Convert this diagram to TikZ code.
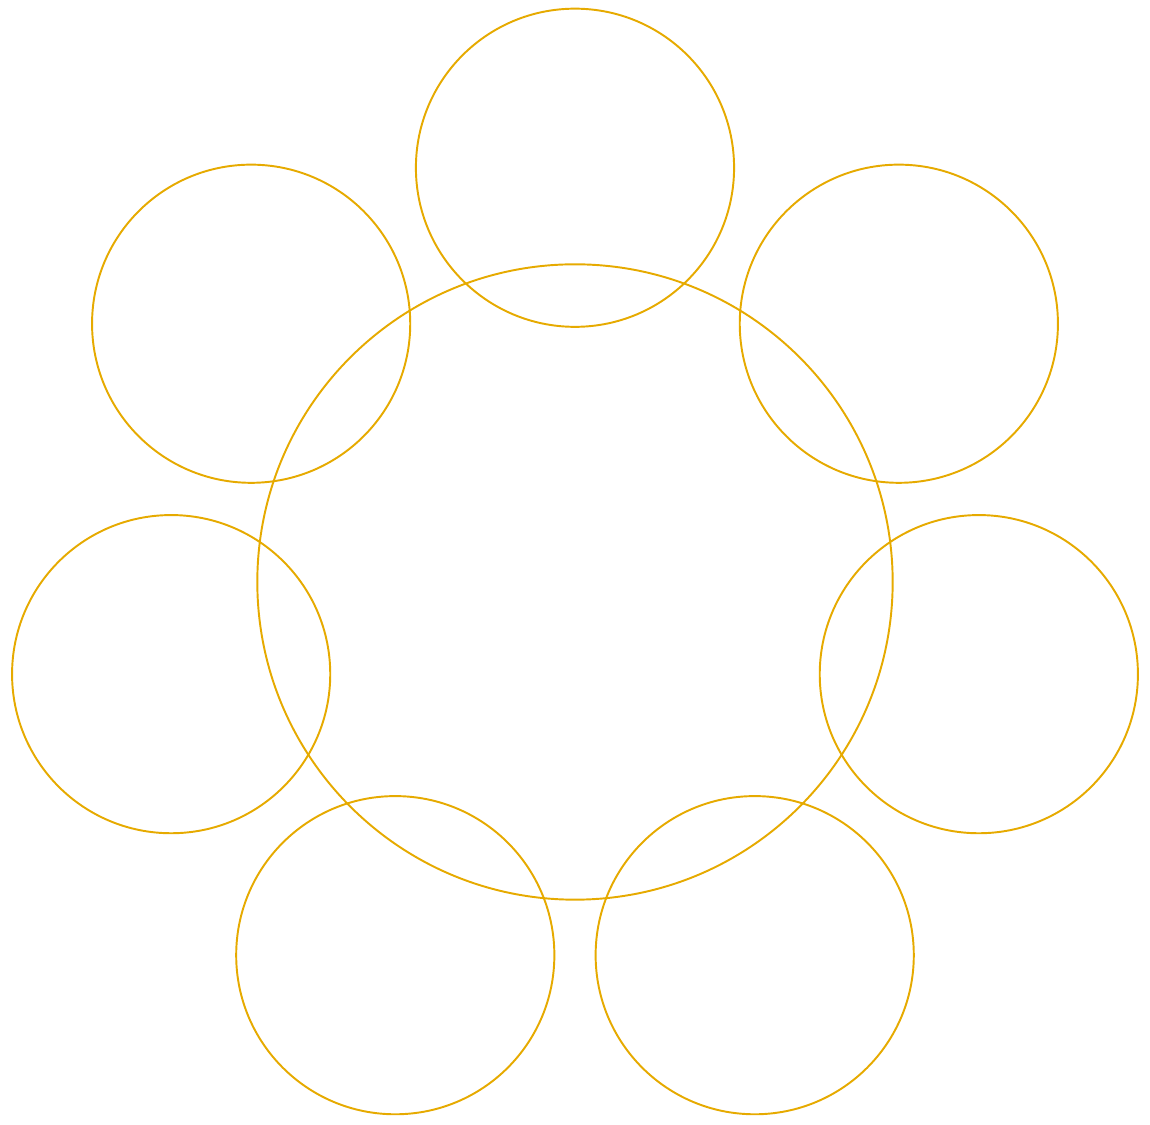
\documentclass[tikz,border=0pt]{standalone}
\usepackage{xcolor}
\usepackage{tikz}
\usetikzlibrary{positioning,calc}
\definecolor{ringgold}{RGB}{230,170,0}
\tikzset{
  hub/.style={circle,draw=ringgold,line width=0.55pt,minimum size=6.35cm,inner sep=0pt},
  petal/.style={circle,draw=ringgold,line width=0.55pt,minimum size=3.18cm,inner sep=0pt},
}

\begin{document}
\begin{tikzpicture}[x=0.01cm,y=-0.01cm]
  % --- frame of the picture ---
  \useasboundingbox (0,0) rectangle (1150,1125);
  % --- big circle in the middle ---
  \node[hub] (centre) at (575,582) {};
  % --- seven small circles round it ---
  \foreach \k in {0,...,6}{
    \node[petal] (petal\k) at ($(centre)+({90+\k*360/7}:4.14cm)$) {};
  }
\end{tikzpicture}
\end{document}
